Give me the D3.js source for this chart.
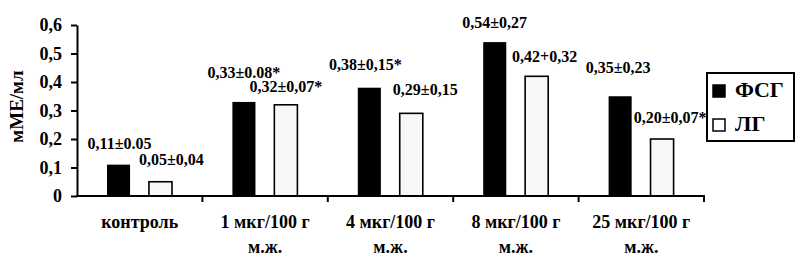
<!DOCTYPE html>
<html>
<head>
<meta charset="utf-8">
<script src="https://cdn.jsdelivr.net/npm/d3@7"></script>
<style>
    body { margin: 0; background: #fff; }
    svg text { font-family: "Liberation Serif", "Times New Roman", serif; font-weight: bold; fill: #000; }
</style>
</head>
<body>
<div id="chart"></div>
<script>
// Data
const categories = ['контроль', '1 мкг/100 г', '4 мкг/100 г', '8 мкг/100 г', '25 мкг/100 г'];
const categorySub = ['', 'м.ж.', 'м.ж.', 'м.ж.', 'м.ж.'];
const seriesNames = ['ФСГ', 'ЛГ'];
const fshValues = [0.11, 0.33, 0.38, 0.54, 0.35];
const lhValues = [0.05, 0.32, 0.29, 0.42, 0.20];
const fshLabels = ['0,11±0.05', '0,33±0.08*', '0,38±0,15*', '0,54±0,27', '0,35±0,23'];
const lhLabels = ['0,05±0,04', '0,32±0,07*', '0,29±0,15', '0,42+0,32', '0,20±0,07*'];
const yTicks = [0, 0.1, 0.2, 0.3, 0.4, 0.5, 0.6];

// label nudges [dx, dy] relative to bar top centre
const fshShift = [[1, -16], [0, -24], [-4, -18], [0, -14], [-2, -23]];
const lhShift = [[11, -17], [0, -13], [14, -18], [8, -14], [8, -16]];

function draw() {
    const dimensions = {
        width: 804,
        height: 263,
        left: 77,
        right: 704,
        top: 25,
        bottom: 196
    };

    const svg = d3.select('#chart')
        .append('svg')
        .attr('width', dimensions.width)
        .attr('height', dimensions.height);

    // Scales
    const xScale = d3.scaleBand()
        .domain(categories)
        .range([dimensions.left, dimensions.right]);

    const xSub = d3.scaleBand()
        .domain(seriesNames)
        .range([30, 95])
        .paddingInner(0.45);

    const yScale = d3.scaleLinear()
        .domain([0, 0.6])
        .range([dimensions.bottom, dimensions.top]);

    const rows = categories.map((c, i) => ({
        cat: i,
        name: c,
        values: [
            { key: 'ФСГ', value: fshValues[i], label: fshLabels[i], shift: fshShift[i] },
            { key: 'ЛГ', value: lhValues[i], label: lhLabels[i], shift: lhShift[i] }
        ]
    }));

    // Bars
    const groups = svg.append('g')
        .selectAll('g')
        .data(rows)
        .join('g')
        .attr('transform', d => `translate(${xScale(d.name)},0)`);

    groups.selectAll('rect')
        .data(d => d.values)
        .join('rect')
        .attr('x', d => xSub(d.key))
        .attr('y', d => yScale(d.value))
        .attr('width', xSub.bandwidth())
        .attr('height', d => yScale(0) - yScale(d.value))
        .attr('fill', d => d.key === 'ФСГ' ? '#000' : '#f7f7f7')
        .attr('stroke', '#000')
        .attr('stroke-width', d => d.key === 'ФСГ' ? 0 : 1.6);

    groups.selectAll('text.val')
        .data(d => d.values)
        .join('text')
        .classed('val', true)
        .attr('x', d => xSub(d.key) + xSub.bandwidth() / 2 + d.shift[0])
        .attr('y', d => yScale(d.value) + d.shift[1])
        .attr('text-anchor', 'middle')
        .style('font-size', '16px')
        .text(d => d.label);

    // Y axis
    const yAxis = d3.axisLeft(yScale)
        .tickValues(yTicks)
        .tickSize(6)
        .tickSizeOuter(0)
        .tickPadding(9)
        .tickFormat(d => d === 0 ? '0' : d3.format('.1f')(d).replace('.', ','));

    const yAxisGroup = svg.append('g')
        .attr('transform', `translate(${dimensions.left},0)`)
        .call(yAxis);

    yAxisGroup.select('.domain').attr('stroke-width', 2);
    yAxisGroup.selectAll('.tick line').attr('stroke-width', 2);
    yAxisGroup.selectAll('.tick text')
        .attr('font-family', null)
        .style('font-size', '18px');

    // X axis
    svg.append('line')
        .attr('x1', dimensions.left - 1)
        .attr('x2', dimensions.right + 1)
        .attr('y1', yScale(0))
        .attr('y2', yScale(0))
        .attr('stroke', '#000')
        .attr('stroke-width', 2);

    svg.append('g')
        .selectAll('line')
        .data(categories)
        .join('line')
        .attr('x1', d => xScale(d) + xScale.bandwidth())
        .attr('x2', d => xScale(d) + xScale.bandwidth())
        .attr('y1', yScale(0))
        .attr('y2', yScale(0) + 6)
        .attr('stroke', '#000')
        .attr('stroke-width', 2);

    const catLabels = svg.append('g')
        .selectAll('text')
        .data(categories)
        .join('text')
        .attr('text-anchor', 'middle')
        .style('font-size', '18px');

    catLabels.append('tspan')
        .attr('x', d => xScale(d) + xScale.bandwidth() / 2)
        .attr('y', yScale(0) + 32)
        .text(d => d);

    catLabels.append('tspan')
        .attr('x', d => xScale(d) + xScale.bandwidth() / 2)
        .attr('y', yScale(0) + 57)
        .style('font-size', '18px')
        .text((d, i) => categorySub[i]);

    // Y title
    svg.append('text')
        .attr('transform', `translate(23,${(dimensions.top + dimensions.bottom) / 2 - 4}) rotate(-90)`)
        .attr('text-anchor', 'middle')
        .style('font-size', '19px')
        .text('мМЕ/мл');

    // Legend
    const legend = svg.append('g')
        .attr('transform', 'translate(707,73)');

    legend.append('rect')
        .attr('width', 87)
        .attr('height', 68)
        .attr('fill', '#fff')
        .attr('stroke', '#000')
        .attr('stroke-width', 2);

    const items = legend.selectAll('g')
        .data(seriesNames)
        .join('g')
        .attr('transform', (d, i) => `translate(6,${12 + i * 34})`);

    items.append('rect')
        .attr('width', 12)
        .attr('height', 12)
        .attr('fill', (d, i) => i === 0 ? '#000' : '#fff')
        .attr('stroke', '#000')
        .attr('stroke-width', 1.5);

    items.append('text')
        .attr('x', 22)
        .attr('y', 12)
        .style('font-size', '22px')
        .text(d => d);
}

draw();
</script>
</body>
</html>
